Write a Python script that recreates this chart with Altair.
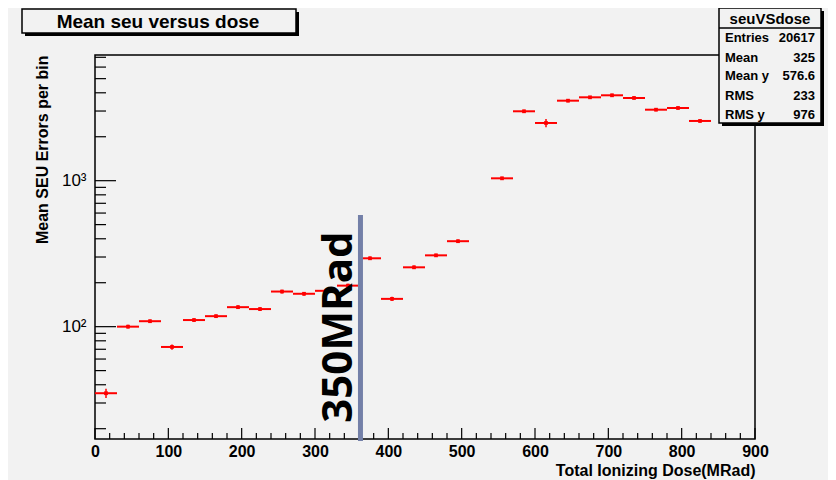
import altair as alt
import pandas as pd

# ---- data ----
bin_low = [0, 30, 60, 90, 120, 150, 180, 210, 240, 270, 300, 330, 360, 390, 420,
           450, 480, 540, 570, 600, 630, 660, 690, 720, 750, 780, 810]
bin_width = 30
mean_seu = [35.0, 100, 109, 72.6, 111, 118, 136, 132, 174, 168, 176, 191, 294, 155,
            255, 308, 385, 1038, 2988, 2485, 3532, 3725, 3845, 3686, 3064, 3148, 2565]
seu_err = [2.5, 3, 3, 3, 3, 3, 4, 4, 5, 5, 5, 6, 8, 5, 7, 8, 10, 25, 70, 160, 80, 80, 90, 80, 70, 70, 60]

x_ticks_major = [0, 100, 200, 300, 400, 500, 600, 700, 800, 900]
x_ticks_minor = [v for v in range(0, 901, 20) if v % 100 != 0]
y_ticks_major = [100, 1000]
y_ticks_minor = [20, 30, 40, 50, 60, 70, 80, 90, 200, 300, 400, 500, 600, 700, 800, 900,
                 2000, 3000, 4000, 5000, 6000, 7000]

stats_labels = ["Entries", "Mean", "Mean y", "RMS", "RMS y"]
stats_values = ["20617", "325", "576.6", "233", "976"]

marker_dose = 362
marker_top = 582

W, H = 660, 384
BG = "#f2f2f2"
FONT = "Liberation Sans"

df = pd.DataFrame({
    "lo": bin_low,
    "hi": [b + bin_width for b in bin_low],
    "x": [b + bin_width / 2 for b in bin_low],
    "y": mean_seu,
    "ylo": [v - e for v, e in zip(mean_seu, seu_err)],
    "yhi": [v + e for v, e in zip(mean_seu, seu_err)],
})

xs = alt.Scale(domain=[0, 900], nice=False, zero=False)
ys = alt.Scale(type="log", domain=[17, 7260], nice=False)

one = alt.Data(values=[{}])

base = alt.Chart(df)

hbars = base.mark_rule(color="#ff0000", strokeWidth=2).encode(
    x=alt.X("lo:Q", scale=xs, axis=alt.Axis(
        values=x_ticks_major, ticks=False, domain=False, grid=False, labelFlush=False,
        labelFont=FONT, labelFontWeight="bold", labelFontSize=16, labelColor="black",
        labelPadding=4, title="Total Ionizing Dose(MRad)", titleFont=FONT,
        titleFontWeight="bold", titleFontSize=16, titleColor="black",
        titleX=W, titleY=31, titleAlign="right", titleBaseline="middle")),
    x2="hi:Q",
    y=alt.Y("y:Q", scale=ys, axis=alt.Axis(
        values=y_ticks_major, ticks=False, domain=False, grid=False, labelFlush=False,
        labelExpr="datum.value == 100 ? '10²' : '10³'",
        labelFont=FONT, labelFontSize=17, labelColor="black", labelPadding=9,
        title="Mean SEU Errors per bin", titleFont=FONT, titleFontWeight="bold",
        titleFontSize=16, titleColor="black", titleAngle=-90, titleX=-53, titleY=0,
        titleAlign="right", titleBaseline="middle")),
)
vbars = base.mark_rule(color="#ff0000", strokeWidth=1.5).encode(
    x=alt.X("x:Q", scale=xs), y=alt.Y("ylo:Q", scale=ys), y2="yhi:Q")
pts = base.mark_square(color="#ff0000", size=14, opacity=1).encode(
    x=alt.X("x:Q", scale=xs), y=alt.Y("y:Q", scale=ys))

# inner ROOT-style ticks
ymaj = alt.Chart(pd.DataFrame({"v": y_ticks_major})).mark_rule(color="black", strokeWidth=1.2).encode(
    y=alt.Y("v:Q", scale=ys), x=alt.value(0), x2=alt.value(21))
ymin = alt.Chart(pd.DataFrame({"v": y_ticks_minor})).mark_rule(color="black", strokeWidth=1.2).encode(
    y=alt.Y("v:Q", scale=ys), x=alt.value(0), x2=alt.value(11))
xmaj = alt.Chart(pd.DataFrame({"v": x_ticks_major})).mark_rule(color="black", strokeWidth=1.2).encode(
    x=alt.X("v:Q", scale=xs), y=alt.value(H), y2=alt.value(H - 11))
xmin = alt.Chart(pd.DataFrame({"v": x_ticks_minor})).mark_rule(color="black", strokeWidth=1.2).encode(
    x=alt.X("v:Q", scale=xs), y=alt.value(H), y2=alt.value(H - 6))

# annotation line and text
vline = alt.Chart(pd.DataFrame({"d": [marker_dose], "t": [marker_top]})).mark_rule(
    color="#7480a8", strokeWidth=5).encode(
    x=alt.X("d:Q", scale=xs), y=alt.Y("t:Q", scale=ys), y2=alt.value(H + 2))
vtext = alt.Chart(one).mark_text(
    text="350MRad", font="Open Sans", fontWeight="bold", fontSize=42, angle=270,
    align="center", baseline="middle", color="black").encode(
    x=alt.value(244), y=alt.value(272))

# title box
tshadow = alt.Chart(one).mark_rect(color="black").encode(
    x=alt.value(-70), x2=alt.value(204), y=alt.value(-43), y2=alt.value(-19))
tbox = alt.Chart(one).mark_rect(fill=BG, stroke="black", strokeWidth=1.5).encode(
    x=alt.value(-73), x2=alt.value(201), y=alt.value(-46), y2=alt.value(-22))
ttext = alt.Chart(one).mark_text(
    text="Mean seu versus dose", font=FONT, fontWeight="bold", fontSize=19,
    align="center", baseline="middle", color="black").encode(
    x=alt.value(63), y=alt.value(-33))

# stats box
sshadow = alt.Chart(one).mark_rect(color="black").encode(
    x=alt.value(627), x2=alt.value(729), y=alt.value(-44), y2=alt.value(71))
sbox = alt.Chart(one).mark_rect(fill=BG, stroke="black", strokeWidth=1.5).encode(
    x=alt.value(624), x2=alt.value(726), y=alt.value(-47), y2=alt.value(68))
ssep = alt.Chart(one).mark_rule(color="black", strokeWidth=1.5).encode(
    x=alt.value(624), x2=alt.value(726), y=alt.value(-27))
shead = alt.Chart(one).mark_text(
    text="seuVSdose", font=FONT, fontWeight="bold", fontSize=15,
    align="center", baseline="middle", color="black").encode(
    x=alt.value(675), y=alt.value(-36))
row_y = [-17, 3, 21, 41, 60]
stats_layers = []
for lab, val, yy in zip(stats_labels, stats_values, row_y):
    stats_layers.append(alt.Chart(one).mark_text(
        text=lab, font=FONT, fontWeight="bold", fontSize=13, align="left",
        baseline="middle", color="black").encode(x=alt.value(630), y=alt.value(yy)))
    stats_layers.append(alt.Chart(one).mark_text(
        text=val, font=FONT, fontWeight="bold", fontSize=13, align="right",
        baseline="middle", color="black").encode(x=alt.value(720), y=alt.value(yy)))

chart = alt.layer(
    hbars, vbars, pts, ymaj, ymin, xmaj, xmin, vline, vtext,
    tshadow, tbox, ttext, sshadow, sbox, ssep, shead, *stats_layers
).properties(
    width=W, height=H, background=BG,
    autosize=alt.AutoSizeParams(type="none"),
    padding={"left": 87, "top": 47, "right": 73, "bottom": 41},
).configure_view(
    stroke="black", strokeWidth=1.5, fill=BG, clip=False
)

chart.save("out.html", embed_options={"renderer": "svg", "actions": False})
